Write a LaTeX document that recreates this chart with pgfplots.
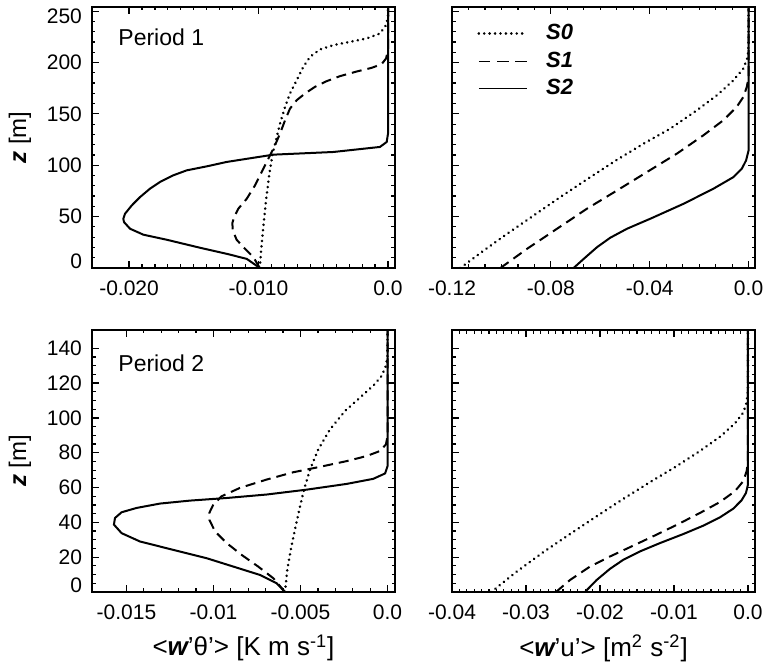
\documentclass[border=0pt]{standalone}
\usepackage{pgfplots}
\pgfplotsset{compat=1.18}
\usepackage{fontspec}
\setmainfont{Liberation Sans}

\newcommand{\lbl}{\fontsize{12}{14}\selectfont}
\newcommand{\xlbl}{\fontsize{13}{15}\selectfont}
\pgfplotsset{
  panel/.style={
    scale only axis, width=151.5pt,
    axis line style={line width=0.7pt},
    tick align=inside,
    major tick length=3.5pt, minor tick length=1.75pt,
    every tick/.style={line width=0.6pt, black},
    tick label style={font=\fontsize{10.5}{12}\selectfont},
    xticklabel style={yshift=-3pt},
    yticklabel style={xshift=-1.5pt},
    scaled x ticks=false, scaled y ticks=false,
    /pgf/number format/assume math mode=true,
    every axis y label/.style={at={(axis description cs:-0.2376,0.5)}, rotate=90, anchor=center},
    every axis x label/.style={at={(axis description cs:0.5,0)}, anchor=center, yshift=-28pt},
  },
  s0/.style={black, line width=1.4pt, line cap=round, dash pattern=on 0.01pt off 2.7pt},
  s1/.style={black, line width=1pt, dash pattern=on 5pt off 3pt},
  s2/.style={black, line width=1pt},
}

\begin{document}
\begin{tikzpicture}
\path[use as bounding box] (0,0) rectangle (383pt,332pt);

% Period 1, heat flux
\begin{axis}[panel, at={(46pt,198pt)}, anchor=south west, height=130.5pt,
  xmin=-0.02286, xmax=0.00054, ymin=0, ymax=254,
  xtick={-0.02,-0.01,0}, xticklabels={-0.020,-0.010,0.0}, minor x tick num=9,
  ytick={0,50,...,250},
  yticklabels={\raisebox{3.5pt}[\height][\depth]{0},50,100,150,200,\raisebox{-2.4pt}[\height][\depth]{250}},
  minor y tick num=4,
  ylabel={\lbl{\bfseries\itshape z} [m]}]
\addplot[s0] coordinates {(-0.0099,0) (-0.0098,17.1) (-0.00963,39.8) (-0.00942,65.8) (-0.00916,91.8)
  (-0.00891,111.3) (-0.00865,124.3) (-0.00834,140.5) (-0.00795,156.8) (-0.00757,169.8)
  (-0.00705,182.8) (-0.00654,195.8) (-0.00602,205.5) (-0.00525,212.7) (-0.00422,216.9)
  (-0.00293,220.1) (-0.00165,223.4) (-0.00062,228.2) (-0.00015,236.4) (0,244.5) (0,254)};
\addplot[s1] coordinates {(-0.0099,0) (-0.0104,10.6) (-0.01117,20.3) (-0.01169,27.5) (-0.01199,36.6)
  (-0.01202,43.7) (-0.01189,49.5) (-0.01156,57.7) (-0.01091,67.4) (-0.01027,80.4)
  (-0.00976,93.4) (-0.00924,106.4) (-0.00873,119.4) (-0.00834,130.8) (-0.00795,143.8)
  (-0.00757,155.1) (-0.00705,163.3) (-0.00641,169.8) (-0.00564,176.3) (-0.00474,181.8)
  (-0.00371,186.7) (-0.00242,191.2) (-0.00126,194.8) (-0.00049,198.4) (-0.00015,203.9)
  (0,212) (0,254)};
\addplot[s2] coordinates {(-0.0099,0) (-0.01091,8.9) (-0.01246,13.8) (-0.01452,19.7) (-0.01709,27.5)
  (-0.01889,32.4) (-0.01992,38.2) (-0.02039,44.7) (-0.02044,47.9) (-0.02031,52.8)
  (-0.01979,60.9) (-0.01915,69.0) (-0.01838,77.2) (-0.01761,83.7) (-0.01658,90.2)
  (-0.01555,95.0) (-0.01400,98.9) (-0.01246,103.2) (-0.00885,110.3) (-0.00422,112.9)
  (-0.00062,117.8) (-0.0001,122.7) (0,130.8) (0,254)};
\node[anchor=west, inner sep=0pt, font=\fontsize{11.5}{13}\selectfont] at (rel axis cs:0.086,0.885) {Period 1};
\end{axis}

% Period 1, momentum flux
\begin{axis}[panel, at={(226pt,198pt)}, anchor=south west, height=130.5pt,
  xmin=-0.12, xmax=0.0026, ymin=0, ymax=254,
  xtick={-0.12,-0.08,-0.04,0}, xticklabels={-0.12,-0.08,-0.04,0.0}, minor x tick num=5,
  ytick={0,50,...,250}, yticklabels={}, minor y tick num=4,
  legend style={at={(0.0825,0.937)}, anchor=north west, draw=none, fill=none,
    inner sep=0pt, row sep=3.6pt, column sep=9pt,
    nodes={inner sep=0pt, text height=8pt, text depth=2pt, font=\fontsize{11}{13}\selectfont\bfseries\itshape}},
  legend cell align=left,
  legend image code/.code={\draw[#1] (0pt,0pt) -- (24pt,0pt);}]
\addplot[s0, forget plot] coordinates {(-0.1166,0) (-0.1071,17.1) (-0.0977,33.3) (-0.0869,51.2)
  (-0.0762,69.0) (-0.0640,88.5) (-0.0532,105.4) (-0.0425,121.0) (-0.0317,135.6)
  (-0.0209,153.5) (-0.0128,168.1) (-0.0061,182.8) (-0.0021,194.1) (-0.0003,205.5)
  (0,218.5) (0,254)};
\addplot[s1, forget plot] coordinates {(-0.1004,0) (-0.0896,18.7) (-0.0775,38.2) (-0.0654,57.7)
  (-0.0532,75.5) (-0.0411,93.4) (-0.0290,111.3) (-0.0183,129.1) (-0.0102,143.8)
  (-0.0048,156.8) (-0.0021,166.5) (-0.0007,176.3) (0,186.0) (0,254)};
\addplot[s2, forget plot] coordinates {(-0.0708,0) (-0.0667,8.9) (-0.0613,20.3) (-0.0560,29.4)
  (-0.0492,38.2) (-0.0398,47.9) (-0.0263,62.5) (-0.0142,77.2) (-0.0061,88.5)
  (-0.0027,96.7) (-0.0010,104.8) (0,114.5) (0,254)};
\addlegendimage{black, line width=1.4pt, line cap=round, dash pattern=on 0.01pt off 2.7pt}
\addlegendentry{S0}
\addlegendimage{black, line width=0.5pt, dash pattern=on 5.8pt off 3.3pt}
\addlegendentry{S1}
\addlegendimage{black, line width=0.65pt}
\addlegendentry{S2}
\end{axis}

% Period 2, heat flux
\begin{axis}[panel, at={(46pt,36pt)}, anchor=south west, height=131pt,
  xmin=-0.01698, xmax=0.00043, ymin=0, ymax=150.5,
  xtick={-0.015,-0.01,-0.005,0}, xticklabels={-0.015,-0.01,-0.005,0.0}, minor x tick num=4,
  ytick={0,20,...,140},
  yticklabels={\raisebox{3.5pt}[\height][\depth]{0},20,40,60,80,100,120,140},
  minor y tick num=3,
  ylabel={\lbl{\bfseries\itshape z} [m]},
  xlabel={\xlbl <{\bfseries\itshape w}'θ'> [K m s\textsuperscript{-1}]}]
\addplot[s0] coordinates {(-0.00589,0) (-0.00576,12.7) (-0.00556,24.2) (-0.00532,35.8)
  (-0.00507,47.3) (-0.00480,58.8) (-0.00445,70.4) (-0.00398,81.9) (-0.00330,93.5)
  (-0.00244,104.0) (-0.00158,111.7) (-0.00082,118.5) (-0.00033,124.2) (-0.00009,130.0)
  (0,135.8) (0,150.5)};
\addplot[s1] coordinates {(-0.00589,0) (-0.00656,7.9) (-0.00743,14.6) (-0.00838,21.3)
  (-0.00924,28.1) (-0.00991,34.8) (-0.01024,41.5) (-0.01024,45.4) (-0.01001,50.2)
  (-0.00953,55.0) (-0.00848,59.8) (-0.00694,64.6) (-0.00541,68.8) (-0.00388,71.9)
  (-0.00234,75.2) (-0.00120,78.1) (-0.00043,81.0) (-0.00009,84.8) (0,89.6) (0,150.5)};
\addplot[s2] coordinates {(-0.00589,0) (-0.00637,5.0) (-0.00733,9.8) (-0.00886,14.6)
  (-0.01039,19.4) (-0.01231,24.2) (-0.01422,29.0) (-0.01528,33.8) (-0.01572,38.7)
  (-0.01566,42.5) (-0.01528,45.8) (-0.01441,48.3) (-0.01307,50.8) (-0.01135,52.5)
  (-0.00924,54.0) (-0.00694,56.0) (-0.00464,58.8) (-0.00234,62.1) (-0.00082,65.0)
  (-0.00014,68.1) (0,72.3) (0,150.5)};
\node[anchor=west, inner sep=0pt, font=\fontsize{11.5}{13}\selectfont] at (rel axis cs:0.086,0.874) {Period 2};
\end{axis}

% Period 2, momentum flux
\begin{axis}[panel, at={(226pt,36pt)}, anchor=south west, height=131pt,
  xmin=-0.04, xmax=0.00095, ymin=0, ymax=150.5,
  xtick={-0.04,-0.03,-0.02,-0.01,0}, xticklabels={-0.04,-0.03,-0.02,-0.01,0.0}, minor x tick num=9,
  ytick={0,20,...,140}, yticklabels={}, minor y tick num=3,
  xlabel={\xlbl <{\bfseries\itshape w}'u'> [m\textsuperscript{2} s\textsuperscript{-2}]}]
\addplot[s0] coordinates {(-0.0347,0) (-0.03126,11.7) (-0.02766,22.9) (-0.02405,33.3)
  (-0.02045,43.5) (-0.01685,53.5) (-0.01324,63.1) (-0.00964,72.3) (-0.00649,81.0)
  (-0.00378,89.2) (-0.00176,96.9) (-0.00063,103.1) (-0.00018,108.8) (0,115.6) (0,150.5)};
\addplot[s1] coordinates {(-0.02595,0) (-0.02405,6.9) (-0.02135,14.6) (-0.01865,20.4)
  (-0.01572,26.2) (-0.01257,32.5) (-0.00942,39.0) (-0.00649,45.4) (-0.00378,51.7)
  (-0.00176,57.9) (-0.00063,63.7) (-0.00018,69.4) (0,75.2) (0,150.5)};
\addplot[s2] coordinates {(-0.02203,0) (-0.02045,6.9) (-0.01865,13.3) (-0.01685,18.5)
  (-0.01460,23.3) (-0.01189,28.1) (-0.00874,33.3) (-0.00604,38.1) (-0.00378,42.9)
  (-0.00198,47.9) (-0.00086,52.7) (-0.00027,56.9) (0,61.7) (0,150.5)};
\end{axis}
\end{tikzpicture}
\end{document}
